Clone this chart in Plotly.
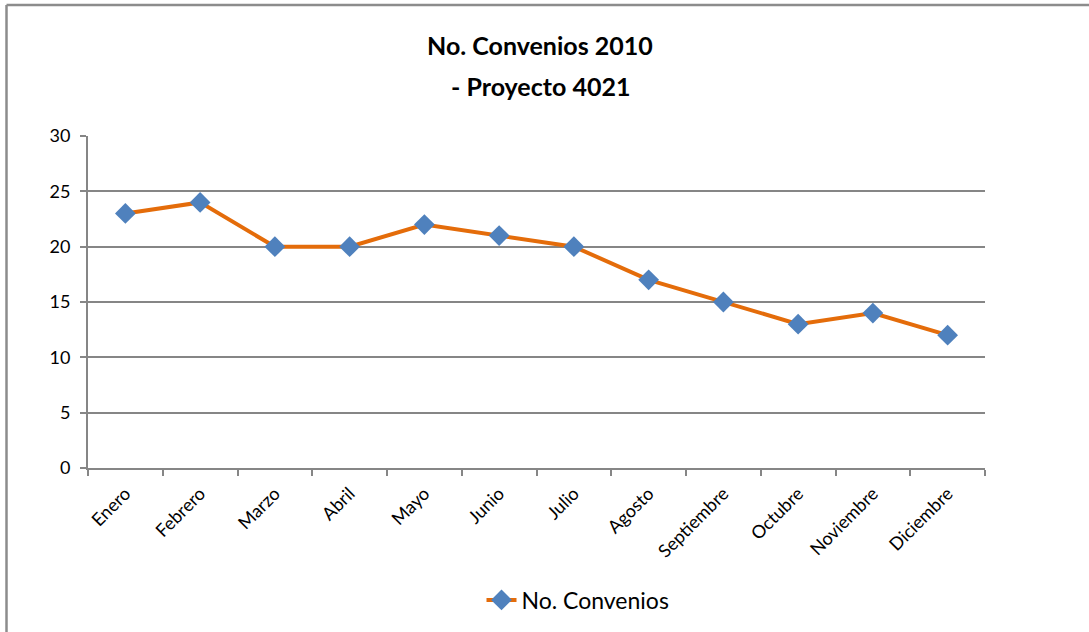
import plotly.graph_objects as go

months = ["Enero", "Febrero", "Marzo", "Abril", "Mayo", "Junio", "Julio",
          "Agosto", "Septiembre", "Octubre", "Noviembre", "Diciembre"]
convenios = [23, 24, 20, 20, 22, 21, 20, 17, 15, 13, 14, 12]
series_name = "No. Convenios"
title_lines = ["No. Convenios 2010", "- Proyecto 4021"]

# remove the page's default body margin so the figure starts at (0, 0)
W, H = 1089, 632
L, R, T, B = 88, 985, 136, 468

FONT = "Lato, Open Sans, sans-serif"

fig = go.Figure()
fig.add_trace(go.Scatter(
    x=months, y=convenios, name=series_name, mode="lines+markers",
    line=dict(color="#E46C0A", width=4),
    marker=dict(symbol="diamond", size=16, color="#4F81BD",
                line=dict(width=0)),
))

def px_x(p):
    return (p - L) / (R - L)

def px_y(p):
    return (B - p) / (B - T)

border = "#8C8C8C"
shapes = [
    dict(type="line", xref="paper", yref="paper",
         x0=px_x(6.5), x1=px_x(1100),
         y0=px_y(5), y1=px_y(5),
         line=dict(color=border, width=2.5)),
    dict(type="line", xref="paper", yref="paper",
         x0=px_x(6.5), x1=px_x(6.5),
         y0=px_y(5), y1=px_y(650),
         line=dict(color=border, width=2.5)),
]

annotations = [
    dict(text="<b>%s</b>" % title_lines[0], xref="paper", yref="paper",
         x=px_x(540), y=px_y(45), showarrow=False,
         font=dict(family=FONT, size=25, color="black"),
         xanchor="center", yanchor="middle"),
    dict(text="<b>%s</b>" % title_lines[1], xref="paper", yref="paper",
         x=px_x(540), y=px_y(86), showarrow=False,
         font=dict(family=FONT, size=25, color="black"),
         xanchor="center", yanchor="middle"),
]

fig.update_layout(
    width=W, height=H,
    margin=dict(l=L, r=W - R, t=T, b=H - B, autoexpand=False),
    paper_bgcolor="white", plot_bgcolor="white",
    font=dict(family=FONT, size=14, color="black"),
    showlegend=True,
    legend=dict(orientation="h", x=px_x(578), y=px_y(600),
                xanchor="center", yanchor="middle",
                font=dict(family=FONT, size=23, color="black")),
    shapes=shapes,
    annotations=annotations,
    xaxis=dict(
        type="category", range=[-0.5, 11.5], tickson="boundaries",
        showline=True, linecolor="#868686", linewidth=2,
        ticks="outside", ticklen=6, tickcolor="#868686", tickwidth=2,
        tickangle=-45, showgrid=False, ticklabelstandoff=6,
        tickfont=dict(family=FONT, size=18, color="black"),
    ),
    yaxis=dict(
        range=[0, 30], dtick=5, tick0=0,
        showline=True, linecolor="#868686", linewidth=2,
        ticks="outside", ticklen=6, tickcolor="#868686", tickwidth=2,
        showgrid=True, gridcolor="#868686", gridwidth=1.5,
        zeroline=False, ticklabelstandoff=6,
        tickfont=dict(family=FONT, size=18, color="black"),
    ),
)

fig.write_html(
    "out.html",
    config={"displayModeBar": False},
    post_script="document.body.style.margin='0';"
                "document.body.style.overflow='hidden';",
)
